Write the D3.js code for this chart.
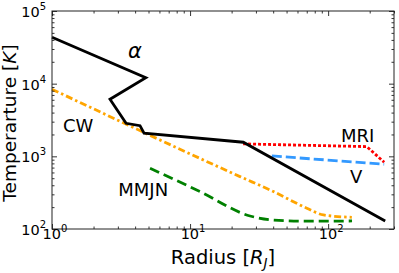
<!DOCTYPE html>
<html><head><meta charset="utf-8">
<script src="https://cdn.jsdelivr.net/npm/d3@7"></script>
<style>body{margin:0;background:#fff}svg{display:block}text{font-family:"DejaVu Sans",sans-serif}</style>
</head><body><svg id="c" width="399" height="273"></svg>
<script>
// Data (radius in R_J, temperature in K)
const alphaR = [1, 4.78, 2.63, 3.44, 4.34, 4.64, 24.3, 259];
const alphaT = [43500, 12100, 6100, 2850, 2640, 2080, 1563, 129];
const cwR = [1, 23.0, 40.2, 53, 70.1, 92.5, 148.5];
const cwT = [8375, 526, 327, 251, 193, 156, 145];
const mmjnR = [5.13, 11.8, 27.2, 39.9, 70.5, 149];
const mmjnT = [686, 327, 151, 133, 128, 129];
const mriR = [24.2, 190.6, 254.7];
const mriT = [1483, 1361, 830];
const vR = [39.1, 254.7];
const vT = [1013, 778];
const xTicks = [1, 10, 100];
const xTickExp = ["0", "1", "2"];
const yTicks = [100, 1000, 10000, 100000];
const yTickExp = ["2", "3", "4", "5"];
const labels = [
  {t: "CW", R: 1.20, T: 2188},
  {t: "MMJN", R: 3.02, T: 285},
  {t: "MRI", R: 124, T: 1592},
  {t: "V", R: 144, T: 435}
];

const svg = d3.select("#c");
const L = 52, Rgt = 394, Tp = 11, B = 229;
const x = d3.scaleLog().domain([1, 300]).range([L, Rgt]);
const y = d3.scaleLog().domain([100, 100000]).range([B, Tp]);

function series(R, T, color, dash, w, curve) {
  const pts = R.map((r, i) => [r, T[i]]);
  const line = d3.line().x(d => x(d[0])).y(d => y(d[1])).curve(curve || d3.curveLinear);
  svg.append("path").attr("d", line(pts)).attr("fill", "none")
    .attr("stroke", color).attr("stroke-width", w)
    .attr("stroke-dasharray", dash).attr("stroke-linejoin", "miter");
}

series(cwR, cwT, "#FFA500", "7,3,2.5,3", 2.8, d3.curveMonotoneX);
series(mmjnR, mmjnT, "#008000", "10,5", 2.8, d3.curveMonotoneX);
series(mriR, mriT, "#FF0000", "3,2", 2.8);
series(vR, vT, "#3399FF", "10,4", 2.8);
series(alphaR, alphaT, "#000000", null, 2.8);

// axes: ticks inward, on all sides
const g = svg.append("g");
const minorX = [];
for (let d = 1; d <= 100; d *= 10) for (let k = 2; k <= 9; k++) if (d * k <= 300) minorX.push(d * k);
const minorY = [];
for (let d = 100; d < 100000; d *= 10) for (let k = 2; k <= 9; k++) minorY.push(d * k);

function ax(scale, orient, transform, ticks, size) {
  const a = orient(scale).tickValues(ticks).tickSize(size).tickFormat("");
  const gg = g.append("g").attr("transform", transform).call(a);
  gg.select(".domain").remove();
  gg.selectAll("line").attr("stroke", "#000").attr("stroke-width", 0.8);
}
ax(x, d3.axisTop, `translate(0,${B})`, xTicks, 5);
ax(x, d3.axisTop, `translate(0,${B})`, minorX, 2.5);
ax(x, d3.axisBottom, `translate(0,${Tp})`, xTicks, 5);
ax(x, d3.axisBottom, `translate(0,${Tp})`, minorX, 2.5);
ax(y, d3.axisRight, `translate(${L},0)`, yTicks, 5);
ax(y, d3.axisRight, `translate(${L},0)`, minorY, 2.5);
ax(y, d3.axisLeft, `translate(${Rgt},0)`, yTicks, 5);
ax(y, d3.axisLeft, `translate(${Rgt},0)`, minorY, 2.5);

svg.append("rect").attr("x", L).attr("y", Tp).attr("width", Rgt - L).attr("height", B - Tp)
  .attr("fill", "none").attr("stroke", "#222").attr("stroke-width", 1);

// tick labels
xTicks.forEach((v, i) => {
  const t = svg.append("text").attr("x", x(v) + 3).attr("y", 239).attr("text-anchor", "middle")
    .attr("font-size", 14.5).attr("fill", "#000");
  t.append("tspan").text("10");
  t.append("tspan").attr("font-size", 10).attr("dy", -7).text(xTickExp[i]);
});
yTicks.forEach((v, i) => {
  const t = svg.append("text").attr("x", 46).attr("y", y(v) + 6).attr("text-anchor", "end")
    .attr("font-size", 14.5).attr("fill", "#000");
  t.append("tspan").text("10");
  t.append("tspan").attr("font-size", 10).attr("dy", -7).text(yTickExp[i]);
});

// axis labels
const xl = svg.append("text").attr("x", 223).attr("y", 264).attr("text-anchor", "middle")
  .attr("font-size", 19.5).attr("fill", "#000");
xl.append("tspan").text("Radius [");
xl.append("tspan").attr("font-style", "italic").text("R");
xl.append("tspan").attr("font-style", "italic").attr("font-size", 13.5).attr("dy", 4).text("J");
xl.append("tspan").attr("dy", -4).text("]");

const yl = svg.append("text").attr("transform", "translate(16,123) rotate(-90)")
  .attr("text-anchor", "middle").attr("font-size", 18.5).attr("fill", "#000");
yl.append("tspan").text("Temperarture [");
yl.append("tspan").attr("font-style", "italic").text("K");
yl.append("tspan").text("]");

// in-plot labels
svg.append("text").attr("x", 135).attr("y", 58).attr("text-anchor", "middle")
  .attr("font-size", 21).attr("font-style", "italic").text("α");
labels.forEach(l => {
  svg.append("text").attr("x", x(l.R)).attr("y", y(l.T)).attr("font-size", 18).attr("fill", "#000").text(l.t);
});
</script></body></html>
